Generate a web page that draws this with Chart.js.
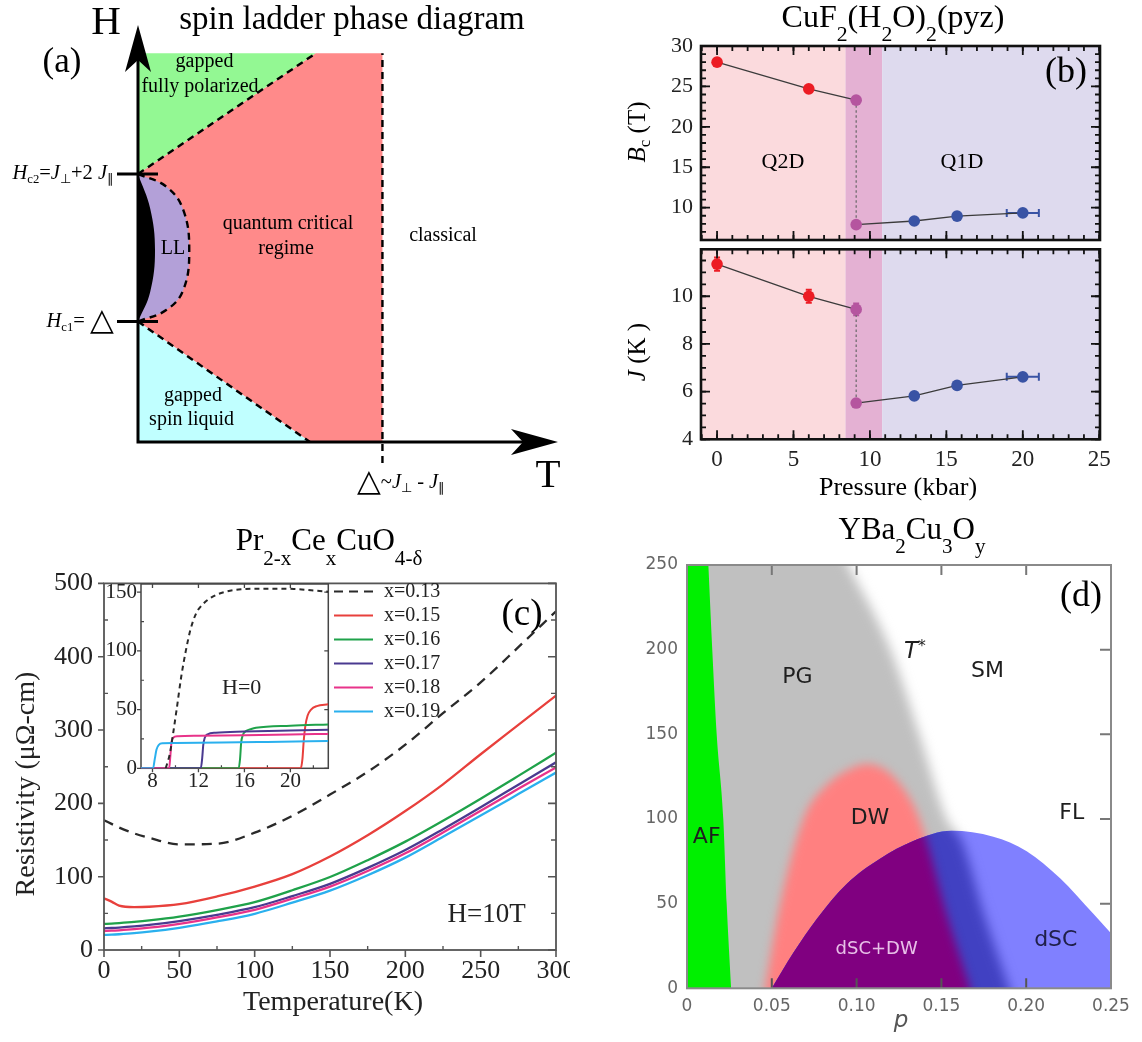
<!DOCTYPE html>
<html>
<head>
<meta charset="utf-8">
<title>Phase diagrams of quantum magnets and cuprates</title>
<script src="https://cdn.jsdelivr.net/npm/chart.js@4.4.1/dist/chart.umd.min.js"></script>
<style>
  html, body { margin: 0; padding: 0; background: #fff; }
  body { position: relative; width: 1142px; height: 1042px; overflow: hidden; }
  canvas { position: absolute; display: block; }
</style>
</head>
<body>
<canvas id="ladder" width="570" height="510" style="left:0;top:0"></canvas>
<canvas id="bcChart" width="572" height="245" style="left:570px;top:0"></canvas>
<canvas id="jChart" width="572" height="270" style="left:570px;top:245px"></canvas>
<canvas id="rhoChart" width="570" height="527" style="left:0;top:515px"></canvas>
<canvas id="rhoInset" width="240" height="230" style="left:95px;top:578px"></canvas>
<canvas id="ybcoChart" width="572" height="527" style="left:570px;top:515px"></canvas>
<script>
// ================= data =================

// (a) spin-ladder regime map, schematic units: T and H normalised to the drawn axes
const ladderHc1 = 0.289;            // H_c1 = Δ
const ladderHc2 = 0.643;            // H_c2 = J⊥ + 2J∥
const ladderTop = 0.932;            // upper edge of the drawn map
const ladderTcross = 0.582;         // Δ ~ J⊥ - J∥, crossover to classical
const polarizedEdge = [[0, 0.643], [0.423, 0.932]];
const spinLiquidEdge = [[0, 0.289], [0.4095, 0]];
const llEdge = [[0, 0.643], [0.068, 0.612], [0.108, 0.556], [0.122, 0.460], [0.108, 0.365], [0.068, 0.317], [0, 0.289]];
const llCore = [[0, 0.643], [0.029, 0.56], [0.0405, 0.460], [0.029, 0.36], [0, 0.289]];

// (b) CuF2(H2O)2(pyz): critical field and exchange vs pressure
const pressureLow = [0, 6, 9.1];
const pressureHigh = [9.1, 12.9, 15.7, 20.0];
const pressureHighErr = [0, 0, 0, 1.05];
const bcLow = [28.0, 24.7, 23.3];
const bcHigh = [7.9, 8.35, 8.95, 9.35];
const jLow = [11.35, 10.0, 9.45];
const jLowErr = [0.28, 0.27, 0.25];
const jHigh = [5.52, 5.82, 6.26, 6.62];
const jHighErr = [0, 0.1, 0.13, 0.13];
const phaseBounds = [8.4, 10.8];    // Q2D | transition | Q1D
const pressureTicks = [0, 5, 10, 15, 20, 25];
const bcTicks = [10, 15, 20, 25, 30];
const jTicks = [4, 6, 8, 10];

// (c) Pr2-xCexCuO4-δ resistivity at H = 10 T
const dopings = ['x=0.13', 'x=0.15', 'x=0.16', 'x=0.17', 'x=0.18', 'x=0.19'];
const tempK  = [0, 5, 10, 20, 30, 50, 75, 100, 125, 150, 175, 200, 225, 250, 275, 300];
const rho013 = [177, 172, 167, 159, 153, 144, 145, 160, 183, 212, 243, 280, 323, 365, 413, 462];
const rho015 = [70.5, 66, 60.5, 58.5, 59, 62.5, 73, 86.5, 103.5, 127.5, 156.5, 189.5, 226, 267, 307, 347];
const rho016 = [35.5, 36, 36.7, 38.3, 40.3, 45.5, 54.5, 65.3, 81.5, 99.5, 122.5, 147.8, 176.3, 206.4, 237.5, 269];
const rho017 = [29.6, 30, 30.6, 32.2, 34.2, 39.5, 48, 58.4, 73.5, 90.2, 112, 136.4, 164.8, 194.7, 225.4, 256];
const rho018 = [25.9, 26.3, 26.9, 28.4, 30.4, 35.7, 44.5, 54.8, 70, 86.5, 107.8, 131.9, 160.3, 189.8, 219.9, 249];
const rho019 = [20.5, 20.9, 21.5, 23, 25, 30.3, 39, 49.4, 64.6, 81, 102, 126, 154.4, 183.3, 212.6, 242];
const tempTicks = [0, 50, 100, 150, 200, 250, 300];
const rhoTicks = [0, 100, 200, 300, 400, 500];

// (c) inset: zero-field transitions, [T (K), rho]
const h0x013 = [[9.15, 0], [9.5, 12], [9.8, 30], [10.1, 50], [10.5, 78], [10.9, 100], [11.3, 118], [11.8, 132], [12.4, 140], [13.2, 146], [14.2, 150], [15.7, 152.5], [18, 153], [20.3, 152.8], [22, 151.5], [23.3, 150.5]];
const h0x015 = [[7, 0], [20.9, 0], [21.05, 8], [21.15, 22], [21.3, 36], [21.5, 45], [21.8, 50], [22.3, 53], [23.3, 54.5]];
const h0x016 = [[7, 0], [15.5, 0], [15.62, 8], [15.72, 22], [15.85, 28], [16.1, 31.5], [16.6, 33.5], [17, 34.5], [20, 36.3], [23.3, 37.3]];
const h0x017 = [[7, 0], [12.2, 0], [12.32, 8], [12.42, 20], [12.55, 26], [12.8, 29], [13.5, 30.3], [16, 31.3], [20, 32.2], [23.3, 32.8]];
const h0x018 = [[7, 0], [9.45, 0], [9.55, 10], [9.65, 22], [9.8, 26], [10.2, 27.3], [12, 27.8], [16, 28.2], [20, 28.8], [23.3, 29.3]];
const h0x019 = [[7, 0], [8.05, 0], [8.2, 8], [8.35, 16], [8.55, 20], [8.9, 21.3], [10, 21.6], [14, 22], [18, 22.5], [23.3, 23.2]];
const insetTempTicks = [8, 12, 16, 20];
const insetRhoTicks = [0, 50, 100, 150];

// (d) YBa2Cu3Oy phase boundaries, doping p vs T (K)
const afEdgeP = [0.0126, 0.0149, 0.0175, 0.0214, 0.0234, 0.026];
const afEdgeT = [250, 200, 150, 100, 50, 0];
const tStarP = [0.095, 0.120, 0.137, 0.153, 0.162, 0.175, 0.190];
const tStarT = [250, 200, 150, 100, 87, 44, 0];
const dwP = [0.046, 0.055, 0.0686, 0.0824, 0.095, 0.106, 0.117, 0.126, 0.135, 0.141, 0.153, 0.167];
const dwT = [0, 50, 100, 120, 129, 132.5, 129, 120, 105, 88, 44, 0];
const domeP = [0.05, 0.0627, 0.0765, 0.094, 0.1138, 0.1334, 0.156, 0.1806, 0.2003, 0.22, 0.2396, 0.25];
const domeT = [0, 21, 41, 61.5, 76.5, 87, 93, 89.5, 81, 65, 44, 32.5];
const dopingTicks = [0, 0.05, 0.10, 0.15, 0.20, 0.25];
const ybcoTempTicks = [0, 50, 100, 150, 200, 250];

// ================= shared helpers =================
const SERIF = '"Liberation Serif", "Times New Roman", serif';
const SANS = '"DejaVu Sans", "Liberation Sans", sans-serif';

Chart.defaults.font.family = SERIF;
Chart.defaults.color = '#222';
Chart.defaults.animation = false;
Chart.defaults.responsive = false;
Chart.defaults.maintainAspectRatio = false;
Chart.defaults.events = [];
Chart.defaults.plugins.legend.display = false;
Chart.defaults.plugins.tooltip.enabled = false;
Chart.defaults.layout.autoPadding = false;

const xy = (xs, ys) => xs.map((x, i) => ({x, y: ys[i]}));
const pairs = arr => arr.map(([x, y]) => ({x, y}));
const fixedTicks = values => scale => { scale.ticks = values.map(value => ({value})); };
// pin axis thickness and keep edge labels from shrinking the plot area
const fixWidth = w => scale => { scale.width = w; scale.paddingTop = 0; scale.paddingBottom = 0; };
const fixHeight = h => scale => { scale.height = h; scale.paddingLeft = 0; scale.paddingRight = 0; };
const quietAxis = {grid: {display: false, drawTicks: false}, border: {display: false}};

function steps(from, to, step) {
  const out = [];
  for (let v = from; v <= to + 1e-9; v += step) out.push(Math.round(v * 1e6) / 1e6);
  return out;
}

// text run with italics, sub- and superscripts; (x, y) is the visual centre line
const S = (t, o) => Object.assign({t}, o || {});
function richText(ctx, parts, x, y, size, o = {}) {
  const fam = o.family || SERIF;
  const subScale = o.subScale || 0.68;
  const fontOf = p => {
    const s = (p.sub || p.sup ? subScale : (p.scale || 1)) * size;
    return `${p.it ? 'italic ' : ''}${s}px ${p.family || fam}`;
  };
  ctx.save();
  ctx.fillStyle = o.color || '#000';
  ctx.textBaseline = 'middle';
  ctx.textAlign = 'left';
  let w = 0;
  for (const p of parts) { ctx.font = fontOf(p); w += ctx.measureText(p.t).width; }
  ctx.translate(x, y);
  if (o.rotate) ctx.rotate(o.rotate);
  let cx = o.align === 'left' ? 0 : o.align === 'right' ? -w : -w / 2;
  for (const p of parts) {
    ctx.font = fontOf(p);
    const dy = p.sub ? (o.subDy ?? 0.3) * size : p.sup ? -(o.supDy ?? 0.35) * size : 0;
    ctx.fillText(p.t, cx, dy);
    cx += ctx.measureText(p.t).width;
  }
  ctx.restore();
}
const text = (ctx, t, x, y, size, o) => richText(ctx, [S(t)], x, y, size, o);

function frame(ctx, a, color, width) {
  ctx.save();
  ctx.strokeStyle = color;
  ctx.lineWidth = width;
  ctx.strokeRect(a.left, a.top, a.right - a.left, a.bottom - a.top);
  ctx.restore();
}

// tick marks on a frame side; positive length points into the plot
function tickMarks(ctx, chart, axisId, values, side, len, color, width) {
  const scale = chart.scales[axisId], a = chart.chartArea;
  ctx.save();
  ctx.strokeStyle = color;
  ctx.lineWidth = width;
  ctx.beginPath();
  for (const v of values) {
    const p = scale.getPixelForValue(v);
    if (side === 'left') { ctx.moveTo(a.left, p); ctx.lineTo(a.left + len, p); }
    else if (side === 'right') { ctx.moveTo(a.right, p); ctx.lineTo(a.right - len, p); }
    else if (side === 'top') { ctx.moveTo(p, a.top); ctx.lineTo(p, a.top + len); }
    else { ctx.moveTo(p, a.bottom); ctx.lineTo(p, a.bottom - len); }
  }
  ctx.stroke();
  ctx.restore();
}

// ================= (a) spin ladder phase diagram =================
const ladderDashed = {borderColor: '#000', borderWidth: 2.4, borderDash: [7, 5], pointRadius: 0, fill: false};
const ladderRegion = {borderWidth: 0, pointRadius: 0, fill: 'shape'};

const ladderDecor = {
  id: 'ladderDecor',
  afterDraw(chart) {
    const {ctx, scales: {x, y}} = chart;
    const x0 = x.getPixelForValue(0), y0 = y.getPixelForValue(0);
    const xEnd = x.getPixelForValue(1), yEnd = y.getPixelForValue(1);
    ctx.save();
    ctx.strokeStyle = '#000';
    ctx.fillStyle = '#000';
    ctx.lineWidth = 3;
    ctx.beginPath();
    ctx.moveTo(x0, y0 + 1.5); ctx.lineTo(x0, yEnd + 30);
    ctx.moveTo(x0 - 1.5, y0); ctx.lineTo(xEnd - 30, y0);
    for (const h of [ladderHc1, ladderHc2]) {
      const p = y.getPixelForValue(h);
      ctx.moveTo(x0 - 21, p); ctx.lineTo(x0 + 20, p);
    }
    ctx.stroke();
    ctx.beginPath();
    ctx.moveTo(x0, yEnd); ctx.lineTo(x0 - 13, yEnd + 47); ctx.lineTo(x0, yEnd + 35); ctx.lineTo(x0 + 13, yEnd + 47); ctx.closePath();
    ctx.moveTo(xEnd, y0); ctx.lineTo(xEnd - 47, y0 - 13); ctx.lineTo(xEnd - 35, y0); ctx.lineTo(xEnd - 47, y0 + 13); ctx.closePath();
    ctx.fill();
    ctx.restore();

    text(ctx, 'spin ladder phase diagram', 352, 20, 33);
    text(ctx, 'H', 106, 23, 41);
    text(ctx, '(a)', 62, 63, 35);
    text(ctx, 'T', 548, 476, 41);
    text(ctx, 'gapped', 204.5, 62, 20);
    text(ctx, 'fully polarized', 200, 87, 20);
    text(ctx, 'quantum critical', 288, 224, 20);
    text(ctx, 'regime', 286, 249, 20);
    text(ctx, 'classical', 443, 236, 20);
    text(ctx, 'LL', 173, 249, 20);
    text(ctx, 'gapped', 193, 396, 20);
    text(ctx, 'spin liquid', 191.6, 420, 20);
    const yc2 = y.getPixelForValue(ladderHc2), yc1 = y.getPixelForValue(ladderHc1);
    richText(ctx, [S('H', {it: 1}), S('c2', {sub: 1}), S('='), S('J', {it: 1}), S('⊥', {sub: 1}), S('+2 '), S('J', {it: 1}), S('∥', {sub: 1})],
      x0 - 24, yc2, 20.5, {align: 'right', subScale: 0.62, subDy: 0.28});
    richText(ctx, [S('H', {it: 1}), S('c1', {sub: 1}), S('= '), S('△', {scale: 1.5})],
      x0 - 24, yc1, 20.5, {align: 'right', subScale: 0.62, subDy: 0.28});
    richText(ctx, [S('△', {scale: 1.5}), S('~'), S('J', {it: 1}), S('⊥', {sub: 1}), S(' - '), S('J', {it: 1}), S('∥', {sub: 1})],
      401, 483, 20.5, {subScale: 0.62, subDy: 0.28});
  }
};

const criticalRegion = [spinLiquidEdge[0], spinLiquidEdge[1], [ladderTcross, 0], [ladderTcross, ladderTop], polarizedEdge[1], polarizedEdge[0]];
const polarizedRegion = [polarizedEdge[0], polarizedEdge[1], [0, ladderTop]];
const spinLiquidRegion = [[0, 0], spinLiquidEdge[0], spinLiquidEdge[1]];

new Chart(document.getElementById('ladder'), {
  type: 'line',
  data: {
    datasets: [
      Object.assign({label: 'fully polarized boundary', data: pairs(polarizedEdge), order: 1}, ladderDashed),
      Object.assign({label: 'spin liquid boundary', data: pairs(spinLiquidEdge), order: 1}, ladderDashed),
      Object.assign({label: 'classical crossover', data: pairs([[ladderTcross, -0.05], [ladderTcross, ladderTop]]), order: 1}, ladderDashed),
      Object.assign({label: 'LL core', data: pairs(llCore), tension: 0.4, backgroundColor: '#000', order: 1.5}, ladderRegion),
      Object.assign({}, ladderDashed, {label: 'LL', data: pairs(llEdge), tension: 0.4, fill: 'shape', backgroundColor: '#b3a0d8', order: 2}),
      Object.assign({label: 'gapped fully polarized', data: pairs(polarizedRegion), backgroundColor: '#93f893', order: 4}, ladderRegion),
      Object.assign({label: 'gapped spin liquid', data: pairs(spinLiquidRegion), backgroundColor: '#c0ffff', order: 4}, ladderRegion),
      Object.assign({label: 'quantum critical regime', data: pairs(criticalRegion), backgroundColor: '#ff8a8a', order: 5}, ladderRegion)
    ]
  },
  options: {
    layout: {padding: {left: 138, right: 12, top: 25, bottom: 40}},
    scales: {
      x: {type: 'linear', min: 0, max: 1, display: false},
      y: {type: 'linear', min: -0.067, max: 1, display: false}
    }
  },
  plugins: [ladderDecor]
});

// ================= (b) CuF2(H2O)2(pyz) =================
const RED = '#ec1c24', MAUVE = '#b5559f', BLUE = '#3953a4';
const lowColors = [RED, RED, MAUVE];
const highColors = [MAUVE, BLUE, BLUE, BLUE];
const bandColors = ['#fbdadd', '#e4b1d3', '#dedaee'];

function drawErrorBars(chart) {
  const {ctx, scales: {x, y}} = chart;
  chart.data.datasets.forEach((ds, i) => {
    if (!ds.errY && !ds.errX) return;
    chart.getDatasetMeta(i).data.forEach((pt, j) => {
      const v = ds.data[j];
      ctx.save();
      ctx.strokeStyle = ds.pointBackgroundColor[j];
      ctx.lineWidth = 2;
      ctx.beginPath();
      const ey = ds.errY ? ds.errY[j] : 0;
      if (ey) {
        const y1 = y.getPixelForValue(v.y + ey), y2 = y.getPixelForValue(v.y - ey);
        ctx.moveTo(pt.x, y1); ctx.lineTo(pt.x, y2);
        ctx.moveTo(pt.x - 3, y1); ctx.lineTo(pt.x + 3, y1);
        ctx.moveTo(pt.x - 3, y2); ctx.lineTo(pt.x + 3, y2);
      }
      const ex = ds.errX ? ds.errX[j] : 0;
      if (ex) {
        const x1 = x.getPixelForValue(v.x - ex), x2 = x.getPixelForValue(v.x + ex);
        ctx.moveTo(x1, pt.y); ctx.lineTo(x2, pt.y);
        ctx.moveTo(x1, pt.y - 4); ctx.lineTo(x1, pt.y + 4);
        ctx.moveTo(x2, pt.y - 4); ctx.lineTo(x2, pt.y + 4);
      }
      ctx.stroke();
      ctx.restore();
    });
  });
}

function pressureDecor(cfg) {
  return {
    id: 'pressureDecor',
    beforeDatasetsDraw(chart) {
      const {ctx, chartArea: a, scales: {x}} = chart;
      const edges = [x.min, ...phaseBounds, x.max].map(v => x.getPixelForValue(v));
      ctx.save();
      bandColors.forEach((c, i) => {
        ctx.fillStyle = c;
        ctx.fillRect(edges[i], a.top, edges[i + 1] - edges[i], a.bottom - a.top);
      });
      ctx.restore();
      drawErrorBars(chart);
    },
    afterDatasetsDraw(chart) {
      const {ctx, chartArea: a} = chart;
      const k = '#111';
      for (const side of ['top', 'bottom']) {
        tickMarks(ctx, chart, 'x', steps(-1, 25, 1), side, 5, k, 1.8);
        tickMarks(ctx, chart, 'x', pressureTicks, side, 9, k, 1.8);
      }
      for (const side of ['left', 'right']) {
        tickMarks(ctx, chart, 'y', cfg.yMinor, side, 5, k, 1.8);
        tickMarks(ctx, chart, 'y', cfg.yTicks, side, 9, k, 1.8);
      }
      frame(ctx, a, '#111', 2.6);
    },
    afterDraw(chart) { cfg.labels(chart.ctx, chart); }
  };
}

function pressurePanel(id, cfg) {
  const marker = {borderColor: '#3b3b3b', borderWidth: 1.3, pointRadius: 5.8, pointBorderWidth: 0, fill: false};
  return new Chart(document.getElementById(id), {
    type: 'line',
    data: {
      datasets: [
        Object.assign({label: 'Q2D', data: xy(pressureLow, cfg.low), errY: cfg.lowErr, pointBackgroundColor: lowColors}, marker),
        Object.assign({label: 'Q1D', data: xy(pressureHigh, cfg.high), errY: cfg.highErr, errX: pressureHighErr, pointBackgroundColor: highColors}, marker),
        {label: 'transition', data: [{x: pressureLow[2], y: cfg.low[2]}, {x: pressureHigh[0], y: cfg.high[0]}],
         borderColor: '#666', borderWidth: 1.2, borderDash: [2.5, 2.5], pointRadius: 0, fill: false}
      ]
    },
    options: {
      layout: {padding: cfg.padding},
      scales: {
        x: Object.assign({type: 'linear', min: -1.05, max: 25.05, display: cfg.showX,
          afterBuildTicks: fixedTicks(pressureTicks), afterFit: fixHeight(cfg.xHeight),
          ticks: {font: {size: 23}, padding: 7, color: '#222', maxRotation: 0}}, quietAxis),
        y: Object.assign({type: 'linear', min: cfg.yMin, max: cfg.yMax,
          afterBuildTicks: fixedTicks(cfg.yTicks), afterFit: fixWidth(131),
          ticks: {font: {size: 22}, padding: 8, color: '#222'}}, quietAxis)
      }
    },
    plugins: [pressureDecor(cfg)]
  });
}

pressurePanel('bcChart', {
  low: bcLow, high: bcHigh, yMin: 6, yMax: 30, yTicks: bcTicks, yMinor: steps(6, 30, 1),
  padding: {top: 46, right: 42, bottom: 5, left: 0}, showX: false, xHeight: 0,
  labels(ctx) {
    richText(ctx, [S('CuF'), S('2', {sub: 1}), S('(H'), S('2', {sub: 1}), S('O)'), S('2', {sub: 1}), S('(pyz)')],
      323, 19, 32, {subDy: 0.5});
    text(ctx, '(b)', 496, 73, 36);
    text(ctx, 'Q2D', 213, 162, 22);
    text(ctx, 'Q1D', 392, 162, 22);
    richText(ctx, [S('B', {it: 1}), S('c', {sub: 1}), S(' (T)')], 68, 132, 25, {rotate: -Math.PI / 2, subDy: 0.3});
  }
});

pressurePanel('jChart', {
  low: jLow, high: jHigh, lowErr: jLowErr, highErr: jHighErr, yMin: 4, yMax: 11.97, yTicks: jTicks, yMinor: steps(4, 11.5, 0.5),
  padding: {top: 4.3, right: 42, bottom: 0, left: 0}, showX: true, xHeight: 75.7,
  labels(ctx) {
    richText(ctx, [S('J', {it: 1}), S(' (K )')], 68, 107, 25, {rotate: -Math.PI / 2});
    text(ctx, 'Pressure (kbar)', 328, 243, 26);
  }
});

// ================= (c) Pr2-xCexCuO4-δ =================
const lineColors = ['#2a2a2a', '#e8403c', '#1fa24a', '#4a3a90', '#e8338a', '#2ab0ee'];
const lineDash = [[10, 7], [], [], [], [], []];
const drawOrder = [0, 5, 4, 3, 2, 1];
const rho10T = [rho013, rho015, rho016, rho017, rho018, rho019];
const rhoH0 = [h0x013, h0x015, h0x016, h0x017, h0x018, h0x019];

const rhoDecor = {
  id: 'rhoDecor',
  afterDatasetsDraw(chart) {
    const {ctx, chartArea: a} = chart;
    const c = '#555';
    tickMarks(ctx, chart, 'y', rhoTicks, 'left', -6, c, 1.6);
    tickMarks(ctx, chart, 'y', steps(50, 450, 100), 'left', 4, c, 1.4);
    tickMarks(ctx, chart, 'y', rhoTicks, 'right', 8, c, 1.6);
    tickMarks(ctx, chart, 'y', steps(50, 450, 100), 'right', 5, c, 1.4);
    tickMarks(ctx, chart, 'x', tempTicks, 'bottom', -7, c, 1.6);
    tickMarks(ctx, chart, 'x', steps(25, 275, 50), 'bottom', 4, c, 1.4);
    frame(ctx, a, '#555', 1.8);
  },
  afterDraw(chart) {
    const ctx = chart.ctx;
    chart.data.datasets.forEach((ds, i) => {
      const y = 76.5 + i * 24;
      ctx.save();
      ctx.strokeStyle = ds.borderColor;
      ctx.lineWidth = 2.2;
      ctx.setLineDash(i === 0 ? [9, 6] : []);
      ctx.beginPath();
      ctx.moveTo(334, y);
      ctx.lineTo(373, y);
      ctx.stroke();
      ctx.restore();
      text(ctx, ds.label, 384, y, 20, {align: 'left', color: '#222'});
    });
    richText(ctx, [S('Pr'), S('2-x', {sub: 1}), S('Ce'), S('x', {sub: 1}), S('CuO'), S('4-δ', {sub: 1})], 329, 27, 31, {subDy: 0.55});
    text(ctx, '(c)', 522, 100, 37);
    text(ctx, 'H=10T', 486.7, 400, 27, {color: '#222'});
    text(ctx, 'Resistivity (μΩ-cm)', 27, 269, 28, {rotate: -Math.PI / 2, color: '#222'});
    text(ctx, 'Temperature(K)', 333, 488, 28, {color: '#222'});
  }
};

new Chart(document.getElementById('rhoChart'), {
  type: 'line',
  data: {
    datasets: rho10T.map((vals, i) => ({
      label: dopings[i], data: xy(tempK, vals), borderColor: lineColors[i], borderDash: lineDash[i],
      borderWidth: 2.3, pointRadius: 0, fill: false, cubicInterpolationMode: 'monotone', order: drawOrder[i]
    }))
  },
  options: {
    layout: {padding: {top: 68.4, right: 14, left: 0, bottom: 0}},
    scales: {
      x: Object.assign({type: 'linear', min: 0, max: 300, afterBuildTicks: fixedTicks(tempTicks), afterFit: fixHeight(92),
        ticks: {font: {size: 26}, padding: 6, color: '#222', maxRotation: 0}}, quietAxis),
      y: Object.assign({type: 'linear', min: 0, max: 500, afterBuildTicks: fixedTicks(rhoTicks), afterFit: fixWidth(104),
        ticks: {font: {size: 26}, padding: 11, color: '#222'}}, quietAxis)
    }
  },
  plugins: [rhoDecor]
});

const insetDecor = {
  id: 'insetDecor',
  beforeDatasetsDraw(chart) {
    const {ctx, chartArea: a} = chart;
    ctx.save();
    ctx.fillStyle = '#fff';
    ctx.fillRect(a.left, a.top, a.right - a.left, a.bottom - a.top);
    ctx.restore();
    const c = '#444';
    tickMarks(ctx, chart, 'y', insetRhoTicks, 'left', -4, c, 1.3);
    tickMarks(ctx, chart, 'y', [25, 75, 125], 'left', 3, c, 1.2);
    tickMarks(ctx, chart, 'y', insetRhoTicks, 'right', 4, c, 1.3);
    tickMarks(ctx, chart, 'x', insetTempTicks, 'bottom', -4, c, 1.3);
    tickMarks(ctx, chart, 'x', [10, 14, 18, 22], 'bottom', 3, c, 1.2);
    tickMarks(ctx, chart, 'x', insetTempTicks, 'top', 4, c, 1.3);
    frame(ctx, a, '#444', 1.5);
  },
  afterDraw(chart) {
    text(chart.ctx, 'H=0', 146.7, 110, 22, {color: '#222'});
  }
};

new Chart(document.getElementById('rhoInset'), {
  type: 'line',
  data: {
    datasets: rhoH0.map((vals, i) => ({
      label: dopings[i], data: pairs(vals), borderColor: lineColors[i],
      borderDash: i === 0 ? [5, 4] : [], borderWidth: 2, pointRadius: 0, fill: false,
      cubicInterpolationMode: 'monotone', order: drawOrder[i]
    }))
  },
  options: {
    layout: {padding: {top: 6, right: 6.7, left: 0, bottom: 0}},
    scales: {
      x: Object.assign({type: 'linear', min: 7, max: 23.3, afterBuildTicks: fixedTicks(insetTempTicks), afterFit: fixHeight(39.7),
        ticks: {font: {size: 21}, padding: 1, color: '#222', maxRotation: 0}}, quietAxis),
      y: Object.assign({type: 'linear', min: 0, max: 157, afterBuildTicks: fixedTicks(insetRhoTicks), afterFit: fixWidth(46),
        ticks: {font: {size: 21}, padding: 4, color: '#222'}}, quietAxis)
    }
  },
  plugins: [insetDecor]
});

// ================= (d) YBa2Cu3Oy =================
// continue the segment p1 -> p0 past p0 until it reaches pixel row yTarget
function extendTo(p0, p1, yTarget) {
  const s = (yTarget - p0.y) / (p0.y - p1.y);
  return {x: p0.x + (p0.x - p1.x) * s, y: yTarget};
}

const ybcoDecor = {
  id: 'ybcoDecor',
  beforeDatasetsDraw(chart) {
    const {ctx, chartArea: a} = chart;
    const M = 40;
    const line = i => chart.getDatasetMeta(i).dataset;

    const pseudogapPath = () => {
      const l = line(1), pts = l.points, n = pts.length;
      ctx.beginPath();
      l.path(ctx);
      const eb = extendTo(pts[n - 1], pts[n - 2], a.bottom + M);
      ctx.lineTo(eb.x, eb.y);
      ctx.lineTo(a.left - M, a.bottom + M);
      ctx.lineTo(a.left - M, a.top - M);
      const et = extendTo(pts[0], pts[1], a.top - M);
      ctx.lineTo(et.x, et.y);
      ctx.closePath();
    };
    const densityWavePath = () => {
      const l = line(2), pts = l.points, n = pts.length;
      ctx.beginPath();
      l.path(ctx);
      ctx.lineTo(pts[n - 1].x, pts[n - 1].y + M);
      ctx.lineTo(pts[0].x, pts[0].y + M);
      ctx.closePath();
    };
    const domePath = () => {
      const l = line(3), pts = l.points, n = pts.length;
      ctx.beginPath();
      l.path(ctx);
      ctx.lineTo(pts[n - 1].x, a.bottom);
      ctx.closePath();
    };
    const afPath = () => {
      const l = line(0);
      ctx.beginPath();
      l.path(ctx);
      ctx.lineTo(a.left - 2, a.bottom + 2);
      ctx.lineTo(a.left - 2, a.top - 2);
      ctx.closePath();
    };

    ctx.save();
    ctx.fillStyle = '#fff';
    ctx.fillRect(a.left, a.top, a.right - a.left, a.bottom - a.top);
    ctx.beginPath();
    ctx.rect(a.left, a.top, a.right - a.left, a.bottom - a.top);
    ctx.clip();

    ctx.filter = 'blur(6px)';
    ctx.fillStyle = '#c0c0c0';
    pseudogapPath(); ctx.fill();
    ctx.filter = 'blur(5px)';
    ctx.fillStyle = '#ff8080';
    densityWavePath(); ctx.fill();

    ctx.save();
    ctx.filter = 'none';
    domePath(); ctx.clip();
    ctx.fillStyle = '#8080ff';
    ctx.fillRect(a.left, a.top, a.right - a.left, a.bottom - a.top);
    ctx.filter = 'blur(6px)';
    ctx.fillStyle = '#4141c2';
    pseudogapPath(); ctx.fill();
    ctx.filter = 'blur(5px)';
    ctx.fillStyle = '#800080';
    densityWavePath(); ctx.fill();
    ctx.restore();

    ctx.filter = 'none';
    ctx.fillStyle = '#00f000';
    afPath(); ctx.fill();
    ctx.restore();
  },
  afterDatasetsDraw(chart) {
    const {ctx, chartArea: a} = chart;
    const c = '#777';
    tickMarks(ctx, chart, 'x', [0.05, 0.10, 0.15, 0.20], 'top', 10, c, 2);
    tickMarks(ctx, chart, 'x', [0.05, 0.10, 0.15, 0.20], 'bottom', 10, '#555', 2);
    tickMarks(ctx, chart, 'y', [50, 100, 150, 200], 'right', 11, c, 2);
    frame(ctx, a, '#8a8a8a', 2);
  },
  afterDraw(chart) {
    const ctx = chart.ctx;
    const o = {family: SANS, color: '#1e1e1e'};
    richText(ctx, [S('YBa'), S('2', {sub: 1}), S('Cu'), S('3', {sub: 1}), S('O'), S('y', {sub: 1})], 342, 16, 31, {subDy: 0.53});
    text(ctx, '(d)', 511, 82, 36);
    text(ctx, 'PG', 227.5, 162, 22, o);
    text(ctx, 'SM', 417.5, 156, 22, o);
    text(ctx, 'DW', 300, 303, 22, o);
    text(ctx, 'FL', 501.7, 298, 22, o);
    text(ctx, 'AF', 136.7, 322, 22, o);
    text(ctx, 'dSC', 485.8, 425, 22, {family: SANS, color: '#20204a'});
    text(ctx, 'dSC+DW', 306.7, 434, 18, {family: SANS, color: '#e8c0e8'});
    richText(ctx, [S('T', {it: 1}), S('*', {sup: 1})], 345, 137, 23, {family: SANS, color: '#1e1e1e', supDy: 0.2});
    richText(ctx, [S('p', {it: 1})], 331, 506, 23, {family: SANS, color: '#555'});
  }
};

const hiddenBoundary = {borderWidth: 0, pointRadius: 0, fill: false, cubicInterpolationMode: 'monotone'};
new Chart(document.getElementById('ybcoChart'), {
  type: 'line',
  data: {
    datasets: [
      Object.assign({label: 'AF', data: xy(afEdgeP, afEdgeT)}, hiddenBoundary),
      Object.assign({label: 'T*', data: xy(tStarP, tStarT)}, hiddenBoundary),
      Object.assign({label: 'DW', data: xy(dwP, dwT)}, hiddenBoundary),
      Object.assign({label: 'dSC', data: xy(domeP, domeT)}, hiddenBoundary)
    ]
  },
  options: {
    layout: {padding: {top: 50, right: 31, left: 0, bottom: 0}},
    scales: {
      x: Object.assign({type: 'linear', min: 0, max: 0.25, afterBuildTicks: fixedTicks(dopingTicks), afterFit: fixHeight(53.7),
        ticks: {font: {family: SANS, size: 17}, color: '#666', padding: 8, maxRotation: 0,
          callback: v => (v === 0 ? '0' : v.toFixed(2))}}, quietAxis),
      y: Object.assign({type: 'linear', min: 0, max: 250, afterBuildTicks: fixedTicks(ybcoTempTicks), afterFit: fixWidth(117),
        ticks: {font: {family: SANS, size: 17}, color: '#666', padding: 9}}, quietAxis)
    }
  },
  plugins: [ybcoDecor]
});
</script>
</body>
</html>
